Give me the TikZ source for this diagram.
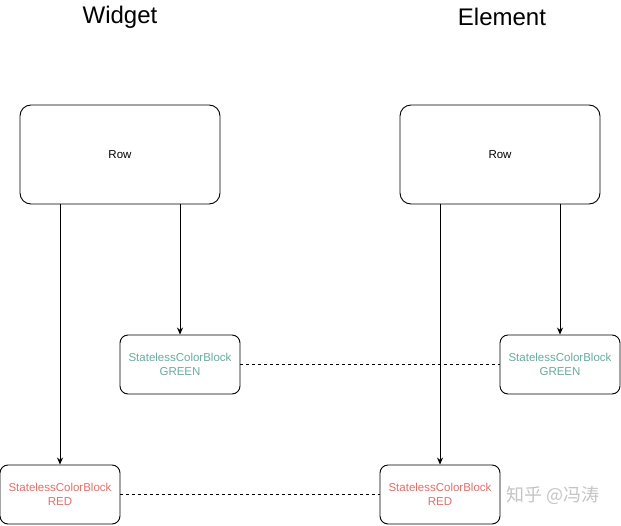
\documentclass[tikz,border=0pt]{standalone}
\usepackage{fontspec}
\setmainfont{Liberation Sans}
\newfontfamily\cjk{Noto Sans CJK SC}
\usetikzlibrary{arrows.meta}
\definecolor{blockgreen}{HTML}{67AB9F}
\definecolor{blockred}{HTML}{EA6B66}
\definecolor{markgray}{HTML}{C4C4C4}

\begin{document}
\begin{tikzpicture}[x=1pt, y=-1pt, %%% coordinates in pixels of the reference, y downwards
    box/.style={draw, line width=0.9pt, rounded corners=11pt, font=\fontsize{11.5}{13.5}\selectfont, align=center, inner sep=0pt},
    rowbox/.style={box, minimum width=200pt, minimum height=99pt},
    blockbox/.style={box, rounded corners=8pt, minimum width=120pt, minimum height=59pt},
    title/.style={font=\fontsize{24}{28}\selectfont},
    link/.style={line width=0.8pt, -{Stealth[length=7pt, width=6pt]}},
    pair/.style={line width=0.8pt, dashed}]
      \useasboundingbox (0,0) rectangle (621,525);

      \node[title] (widget)  at (120,17) {Widget};
      \node[title] (element) at (502,17) {Element};

      %%% widget tree
      \node[rowbox] (rowW) at (120,154.5) {Row};
      \node[blockbox, text=blockgreen] (greenW) at (180,364.5) {StatelessColorBlock\\GREEN};
      \node[blockbox, text=blockred]   (redW)   at (60,494.5)  {StatelessColorBlock\\RED};

      %%% element tree
      \node[rowbox] (rowE) at (500,154.5) {Row};
      \node[blockbox, text=blockgreen] (greenE) at (560,364.5) {StatelessColorBlock\\GREEN};
      \node[blockbox, text=blockred]   (redE)   at (440,494.5) {StatelessColorBlock\\RED};

      \draw[link] (rowW.south -| redW.north)   -- (redW.north);
      \draw[link] (rowW.south -| greenW.north) -- (greenW.north);
      \draw[link] (rowE.south -| redE.north)   -- (redE.north);
      \draw[link] (rowE.south -| greenE.north) -- (greenE.north);

      %%% widget <-> element
      \draw[pair] (greenW.east) -- (greenE.west);
      \draw[pair] (redW.east)   -- (redE.west);

      \node[text=markgray, font=\cjk\fontsize{18}{21}\selectfont] (mark) at (553,495) {知乎 @冯涛};
\end{tikzpicture}
\end{document}
